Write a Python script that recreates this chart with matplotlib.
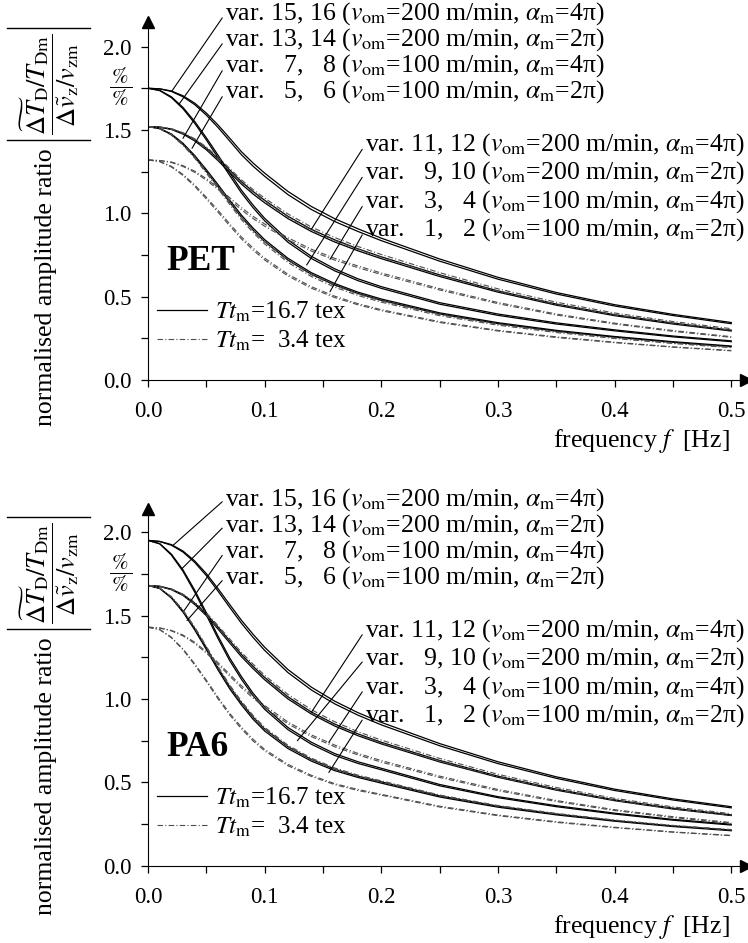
import numpy as np
import matplotlib.pyplot as plt
from matplotlib.lines import Line2D
from matplotlib.ticker import MultipleLocator, FormatStrFormatter

plt.rcParams['font.family'] = ['Liberation Serif', 'DejaVu Serif']
plt.rcParams['mathtext.fontset'] = 'stix'

#----------------------------------------------------------------------
#   Data (frequency in Hz, amplitude ratio)
#----------------------------------------------------------------------
freq = [0.0, 0.01, 0.02, 0.03, 0.04, 0.05, 0.06, 0.07, 0.08, 0.09, 0.10,
        0.12, 0.14, 0.16, 0.18, 0.20, 0.25, 0.30, 0.35, 0.40, 0.45, 0.50]

# PET, Tt_m = 16.7 tex (solid)
pet_s1 = [1.75, 1.747, 1.734, 1.705, 1.661, 1.601, 1.530, 1.451, 1.370, 1.302, 1.241,
          1.131, 1.041, 0.968, 0.907, 0.851, 0.726, 0.616, 0.525, 0.452, 0.394, 0.345]
pet_s2 = [1.75, 1.746, 1.731, 1.699, 1.652, 1.589, 1.515, 1.434, 1.352, 1.283, 1.222,
          1.112, 1.023, 0.951, 0.891, 0.836, 0.713, 0.605, 0.516, 0.444, 0.387, 0.338]
pet_s3 = [1.75, 1.738, 1.699, 1.635, 1.551, 1.453, 1.349, 1.243, 1.139, 1.050, 0.970,
          0.840, 0.742, 0.667, 0.607, 0.560, 0.464, 0.396, 0.343, 0.301, 0.264, 0.235]
pet_s4 = [1.75, 1.736, 1.694, 1.627, 1.540, 1.440, 1.334, 1.227, 1.123, 1.034, 0.955,
          0.826, 0.729, 0.655, 0.596, 0.550, 0.455, 0.388, 0.336, 0.295, 0.259, 0.230]
pet_s5 = [1.52, 1.517, 1.506, 1.480, 1.442, 1.391, 1.328, 1.260, 1.190, 1.131, 1.078,
          0.982, 0.904, 0.841, 0.787, 0.739, 0.631, 0.535, 0.456, 0.392, 0.342, 0.299]
pet_s6 = [1.52, 1.516, 1.503, 1.475, 1.434, 1.381, 1.316, 1.246, 1.176, 1.116, 1.063,
          0.968, 0.891, 0.828, 0.775, 0.728, 0.621, 0.527, 0.449, 0.386, 0.336, 0.294]
pet_s7 = [1.52, 1.509, 1.476, 1.420, 1.347, 1.262, 1.172, 1.079, 0.990, 0.912, 0.842,
          0.730, 0.644, 0.579, 0.527, 0.486, 0.403, 0.344, 0.298, 0.261, 0.230, 0.204]
pet_s8 = [1.52, 1.508, 1.472, 1.413, 1.338, 1.251, 1.160, 1.066, 0.977, 0.899, 0.830,
          0.719, 0.634, 0.570, 0.519, 0.478, 0.396, 0.338, 0.293, 0.257, 0.226, 0.200]
# PET, Tt_m = 3.4 tex (dash-dot)
pet_d1 = [1.52, 1.518, 1.508, 1.484, 1.447, 1.398, 1.337, 1.270, 1.201, 1.143, 1.091,
          0.996, 0.918, 0.855, 0.801, 0.753, 0.644, 0.547, 0.467, 0.402, 0.351, 0.308]
pet_d2 = [1.52, 1.517, 1.504, 1.478, 1.439, 1.387, 1.324, 1.255, 1.185, 1.126, 1.073,
          0.978, 0.900, 0.837, 0.784, 0.736, 0.628, 0.533, 0.454, 0.391, 0.341, 0.298]
pet_d3 = [1.52, 1.508, 1.473, 1.415, 1.340, 1.253, 1.161, 1.067, 0.977, 0.899, 0.829,
          0.717, 0.632, 0.567, 0.516, 0.475, 0.393, 0.335, 0.290, 0.254, 0.223, 0.198]
pet_d4 = [1.52, 1.507, 1.469, 1.408, 1.331, 1.241, 1.148, 1.053, 0.963, 0.885, 0.816,
          0.705, 0.621, 0.557, 0.507, 0.467, 0.386, 0.329, 0.285, 0.249, 0.219, 0.194]
pet_d5 = [1.32, 1.317, 1.308, 1.286, 1.253, 1.208, 1.154, 1.094, 1.034, 0.982, 0.936,
          0.853, 0.785, 0.730, 0.684, 0.642, 0.548, 0.465, 0.396, 0.341, 0.297, 0.260]
pet_d6 = [1.32, 1.316, 1.305, 1.281, 1.246, 1.199, 1.143, 1.082, 1.021, 0.969, 0.923,
          0.841, 0.774, 0.720, 0.674, 0.633, 0.540, 0.458, 0.390, 0.336, 0.292, 0.256]
pet_d7 = [1.32, 1.311, 1.282, 1.233, 1.170, 1.096, 1.018, 0.937, 0.859, 0.792, 0.731,
          0.634, 0.560, 0.503, 0.458, 0.422, 0.350, 0.298, 0.259, 0.227, 0.199, 0.177]
pet_d8 = [1.32, 1.310, 1.278, 1.227, 1.162, 1.086, 1.007, 0.925, 0.847, 0.780, 0.720,
          0.624, 0.551, 0.495, 0.451, 0.416, 0.345, 0.294, 0.255, 0.224, 0.197, 0.175]

# PA6, Tt_m = 16.7 tex (solid)
pa6_s1 = [1.95, 1.944, 1.925, 1.886, 1.827, 1.751, 1.661, 1.566, 1.472, 1.388, 1.310,
          1.176, 1.071, 0.987, 0.918, 0.860, 0.733, 0.624, 0.534, 0.460, 0.402, 0.355]
pa6_s2 = [1.95, 1.943, 1.921, 1.880, 1.818, 1.739, 1.646, 1.549, 1.454, 1.369, 1.291,
          1.158, 1.054, 0.971, 0.903, 0.845, 0.720, 0.613, 0.525, 0.452, 0.395, 0.348]
pa6_s3 = [1.95, 1.931, 1.868, 1.773, 1.652, 1.517, 1.377, 1.246, 1.135, 1.035, 0.952,
          0.829, 0.741, 0.673, 0.624, 0.585, 0.488, 0.415, 0.361, 0.316, 0.279, 0.250]
pa6_s4 = [1.95, 1.929, 1.862, 1.764, 1.640, 1.503, 1.362, 1.230, 1.119, 1.020, 0.938,
          0.816, 0.729, 0.662, 0.614, 0.576, 0.480, 0.409, 0.355, 0.311, 0.274, 0.245]
pa6_s5 = [1.68, 1.675, 1.658, 1.625, 1.574, 1.509, 1.431, 1.349, 1.268, 1.196, 1.129,
          1.013, 0.922, 0.850, 0.791, 0.741, 0.632, 0.538, 0.460, 0.396, 0.346, 0.306]
pa6_s6 = [1.68, 1.674, 1.655, 1.620, 1.566, 1.499, 1.419, 1.336, 1.254, 1.182, 1.115,
          1.000, 0.910, 0.838, 0.780, 0.731, 0.623, 0.531, 0.454, 0.391, 0.341, 0.302]
pa6_s7 = [1.68, 1.663, 1.609, 1.527, 1.423, 1.307, 1.186, 1.074, 0.978, 0.892, 0.820,
          0.714, 0.638, 0.580, 0.538, 0.504, 0.420, 0.358, 0.311, 0.272, 0.240, 0.215]
pa6_s8 = [1.68, 1.662, 1.605, 1.520, 1.414, 1.296, 1.174, 1.061, 0.965, 0.879, 0.808,
          0.703, 0.628, 0.571, 0.530, 0.496, 0.413, 0.352, 0.306, 0.268, 0.236, 0.211]
# PA6, Tt_m = 3.4 tex (dash-dot)
pa6_d1 = [1.68, 1.676, 1.660, 1.628, 1.579, 1.516, 1.440, 1.360, 1.280, 1.209, 1.142,
          1.027, 0.936, 0.864, 0.804, 0.754, 0.644, 0.549, 0.470, 0.405, 0.354, 0.313]
pa6_d2 = [1.68, 1.674, 1.656, 1.622, 1.569, 1.503, 1.425, 1.342, 1.261, 1.189, 1.122,
          1.007, 0.916, 0.844, 0.786, 0.736, 0.628, 0.534, 0.457, 0.393, 0.343, 0.303]
pa6_d3 = [1.68, 1.665, 1.613, 1.533, 1.431, 1.316, 1.196, 1.084, 0.988, 0.902, 0.830,
          0.723, 0.646, 0.587, 0.544, 0.510, 0.425, 0.362, 0.315, 0.275, 0.243, 0.218]
pa6_d4 = [1.68, 1.664, 1.610, 1.528, 1.425, 1.309, 1.188, 1.076, 0.980, 0.894, 0.822,
          0.716, 0.640, 0.581, 0.539, 0.505, 0.421, 0.359, 0.312, 0.273, 0.241, 0.216]
pa6_d5 = [1.43, 1.426, 1.411, 1.383, 1.340, 1.284, 1.218, 1.148, 1.080, 1.018, 0.961,
          0.862, 0.785, 0.724, 0.674, 0.631, 0.538, 0.458, 0.392, 0.337, 0.295, 0.260]
pa6_d6 = [1.43, 1.425, 1.408, 1.378, 1.333, 1.275, 1.208, 1.137, 1.068, 1.006, 0.949,
          0.851, 0.775, 0.714, 0.665, 0.622, 0.530, 0.451, 0.386, 0.332, 0.290, 0.256]
pa6_d7 = [1.43, 1.416, 1.370, 1.300, 1.211, 1.113, 1.010, 0.914, 0.832, 0.759, 0.698,
          0.608, 0.543, 0.493, 0.458, 0.429, 0.358, 0.305, 0.265, 0.232, 0.204, 0.183]
pa6_d8 = [1.43, 1.415, 1.367, 1.295, 1.204, 1.105, 1.001, 0.904, 0.822, 0.749, 0.689,
          0.600, 0.536, 0.487, 0.452, 0.424, 0.353, 0.301, 0.261, 0.229, 0.202, 0.181]

# label texts
var_left = ['var. 15, 16', 'var. 13, 14', 'var.   7,   8', 'var.   5,   6']
var_right = ['var. 11, 12', 'var.   9, 10', 'var.   3,   4', 'var.   1,   2']
v_om = ['200', '200', '100', '100']
alpha_m = ['4', '2', '4', '2']

#----------------------------------------------------------------------
#   Layout of labels (data coords) - where the leader lines end
#----------------------------------------------------------------------
left_text_x, right_text_x = 0.066, 0.186
left_text_y = [2.196, 2.04, 1.884, 1.728]
right_text_y = [1.41, 1.242, 1.068, 0.90]
pet_left_end = [(0.0206, 1.735), (0.0266, 1.655), (0.030, 1.45), (0.0377, 1.39)]
pet_right_end = [(0.140, 0.904), (0.136, 0.69), (0.156, 0.724), (0.156, 0.53)]
pa6_left_end = [(0.0214, 1.92), (0.029, 1.78), (0.031, 1.53), (0.0334, 1.47)]
pa6_right_end = [(0.140, 0.92), (0.128, 0.75), (0.155, 0.74), (0.155, 0.56)]

DD = (5, 2, 1, 2)
FS = 18.5

def var_text(name, v, a):
    return name + r' ($v_{\rm om}$=' + v + r' m/min, $\alpha_{\rm m}$=' + a + 'π)'

def draw_panel(ax, solids, dashes, title, left_end, right_end, ytop):
    for y in solids:
        ax.plot(freq, y, color='k', lw=0.9)
    for y in dashes:
        ax.plot(freq, y, color='0.3', lw=0.8, dashes=DD)

    ax.set_xlim(0, 0.513)
    ax.set_ylim(0, ytop)
    for s in ['top', 'right']:
        ax.spines[s].set_visible(False)
    ax.plot(0, 1, '^k', ms=8, transform=ax.get_xaxis_transform(), clip_on=False)
    ax.plot(1, 0, '>k', ms=8, transform=ax.get_yaxis_transform(), clip_on=False)

    ax.xaxis.set_major_locator(MultipleLocator(0.1))
    ax.xaxis.set_minor_locator(MultipleLocator(0.05))
    ax.yaxis.set_major_locator(MultipleLocator(0.5))
    ax.yaxis.set_minor_locator(MultipleLocator(0.25))
    ax.xaxis.set_major_formatter(FormatStrFormatter('%.1f'))
    ax.yaxis.set_major_formatter(FormatStrFormatter('%.1f'))
    ax.tick_params(which='both', direction='out', length=5, width=0.9, labelsize=16.5)
    ax.tick_params(axis='x', pad=10)
    ax.tick_params(axis='y', pad=7)

    for i in range(4):
        ax.annotate(var_text(var_left[i], v_om[i], alpha_m[i]), xy=left_end[i],
                    xytext=(left_text_x, left_text_y[i]), ha='left', va='center',
                    fontsize=FS, annotation_clip=False,
                    arrowprops=dict(arrowstyle='-', lw=0.8, shrinkA=0, shrinkB=0, relpos=(0, 0.5)))
        ax.annotate(var_text(var_right[i], v_om[i], alpha_m[i]), xy=right_end[i],
                    xytext=(right_text_x, right_text_y[i]), ha='left', va='center',
                    fontsize=FS, annotation_clip=False,
                    arrowprops=dict(arrowstyle='-', lw=0.8, shrinkA=0, shrinkB=0, relpos=(0, 0.5)))

    ax.text(0.016, 0.71, title, fontsize=25.5, fontweight='bold', va='center', ha='left')
    ax.text(-0.023, 1.76, r'$\dfrac{\,\%\,}{\,\%\,}$', fontsize=16, ha='center', va='center')
    ax.text(0.499, -0.365, r'frequency $f$  [Hz]', fontsize=FS, ha='right', va='center')

    handles = [Line2D([], [], color='k', lw=0.9), Line2D([], [], color='0.3', lw=0.8, dashes=DD)]
    ax.legend(handles, [r'$Tt_{\rm m}$=16.7 tex', r'$Tt_{\rm m}$=  3.4 tex'],
              loc='upper left', bbox_to_anchor=(0.015, 0.225), frameon=False,
              fontsize=18, handlelength=2.0, handletextpad=0.3, labelspacing=0.2,
              borderpad=0, borderaxespad=0)

#----------------------------------------------------------------------
#   Plotting
#----------------------------------------------------------------------
fig = plt.figure(figsize=(7.48, 9.43), dpi=100)
ax1 = fig.add_axes([0.1979, 0.5970, 0.800, 0.3801])
ax2 = fig.add_axes([0.1979, 0.0817, 0.800, 0.3789])

draw_panel(ax1, [pet_s1, pet_s2, pet_s3, pet_s4, pet_s5, pet_s6, pet_s7, pet_s8],
           [pet_d1, pet_d2, pet_d3, pet_d4, pet_d5, pet_d6, pet_d7, pet_d8],
           'PET', pet_left_end, pet_right_end, 2.15)
draw_panel(ax2, [pa6_s1, pa6_s2, pa6_s3, pa6_s4, pa6_s5, pa6_s6, pa6_s7, pa6_s8],
           [pa6_d1, pa6_d2, pa6_d3, pa6_d4, pa6_d5, pa6_d6, pa6_d7, pa6_d8],
           'PA6', pa6_left_end, pa6_right_end, 2.14)

# y label: text, absolute-value fraction and its bars (pixel positions of the reference)
frac = r'$\dfrac{\widetilde{\Delta T}_{\rm D}/T_{\rm Dm}}{\Delta\tilde{v}_{\rm z}/v_{\rm zm}}$'
W, H = 748.0, 943.0
for top in (0, 489):
    fig.text(46 / W, 1 - (287 + top) / H, 'normalised amplitude ratio', rotation=90,
             ha='center', va='center', fontsize=18.5)
    fig.text(50 / W, 1 - (84 + top) / H, frac, rotation=90, ha='center', va='center', fontsize=19)
    for yb in (28, 140):
        fig.add_artist(Line2D([7 / W, 90 / W], [1 - (yb + top) / H] * 2, color='k', lw=1.0))

fig.savefig('out.png', dpi=100)
print("Completed Successfully ... ")
